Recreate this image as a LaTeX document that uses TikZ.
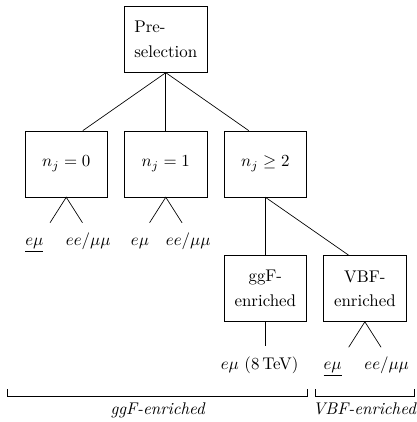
\documentclass[tikz,border=0pt]{standalone}
\usepackage{tikz}
\usetikzlibrary{positioning}

\begin{document}
\begin{tikzpicture}[
    node distance=34.3pt and 9.5pt,
    stage/.style={rectangle, draw, minimum width=49pt, minimum height=39pt, font=\linespread{1.2}\selectfont},
    lbl/.style={anchor=base},
    brlbl/.style={midway, anchor=base, yshift=-10.8pt, font=\itshape}
]
\node[stage, align=left] (pre) {Pre-\\selection};
\node[stage, below=of pre] (n1) {$n_j=1$};
\node[stage, left=of n1] (n0) {$n_j=0$};
\node[stage, right=of n1] (n2) {$n_j\geq 2$};
\node[stage, align=center, below=of n2] (ggF) {ggF-\\enriched};
\node[stage, align=center, right=of ggF] (VBF) {VBF-\\enriched};

\useasboundingbox (-98.1pt,23.3pt) rectangle (148.6pt,-226.4pt);

\draw (pre.south) -- ([xshift=9.8pt]n0.north);
\draw (pre.south) -- (n1.north);
\draw (pre.south) -- ([xshift=-9.8pt]n2.north);
\draw (n2.south) -- (ggF.north);
\draw (n2.south) -- ([xshift=-9.6pt]VBF.north);

\coordinate (n0a) at ([xshift=-9.6pt,yshift=-15.1pt]n0.south);
\coordinate (n0b) at ([xshift=9.6pt,yshift=-15.1pt]n0.south);
\coordinate (n1a) at ([xshift=-9.6pt,yshift=-15.1pt]n1.south);
\coordinate (n1b) at ([xshift=9.6pt,yshift=-15.1pt]n1.south);
\coordinate (VBFa) at ([xshift=-9.6pt,yshift=-15.1pt]VBF.south);
\coordinate (VBFb) at ([xshift=9.6pt,yshift=-15.1pt]VBF.south);
\coordinate (ggFa) at ([yshift=-14.6pt]ggF.south);

\draw (n0a) -- (n0.south) -- (n0b);
\draw (n1a) -- (n1.south) -- (n1b);
\draw (VBFa) -- (VBF.south) -- (VBFb);
\draw (ggF.south) -- (ggFa);

\node[lbl] (n0em) at ([xshift=-18.9pt,yshift=-28.4pt]n0.south) {$\underline{e\mu}$};
\node[lbl] (n0ee) at ([xshift=13pt,yshift=-28.4pt]n0.south) {$ee/\mu\mu$};
\node[lbl] (n1em) at ([xshift=-15.3pt,yshift=-28.4pt]n1.south) {$e\mu$};
\node[lbl] (n1ee) at ([xshift=13.3pt,yshift=-28.4pt]n1.south) {$ee/\mu\mu$};
\node[lbl] (ggFem) at ([xshift=-3.4pt,yshift=-28.4pt]ggF.south) {$e\mu$ (8\,TeV)};
\node[lbl] (VBFem) at ([xshift=-19.1pt,yshift=-28.4pt]VBF.south) {$\underline{e\mu}$};
\node[lbl] (VBFee) at ([xshift=12.9pt,yshift=-28.4pt]VBF.south) {$ee/\mu\mu$};

\coordinate[below=44pt of ggF.south] (brk);
\draw ([xshift=-10pt,yshift=4pt]n0.west |- brk) -- ([xshift=-10pt]n0.west |- brk)
  -- ([xshift=0.4pt]n2.east |- brk) node[brlbl] (ggFtxt) {ggF-enriched}
  -- ([xshift=0.4pt,yshift=4pt]n2.east |- brk);
\draw ([xshift=-4.9pt,yshift=4pt]VBF.west |- brk) -- ([xshift=-4.9pt]VBF.west |- brk)
  -- ([xshift=4.3pt]VBF.east |- brk) node[brlbl] (VBFtxt) {VBF-enriched}
  -- ([xshift=4.3pt,yshift=4pt]VBF.east |- brk);
\end{tikzpicture}
\end{document}
